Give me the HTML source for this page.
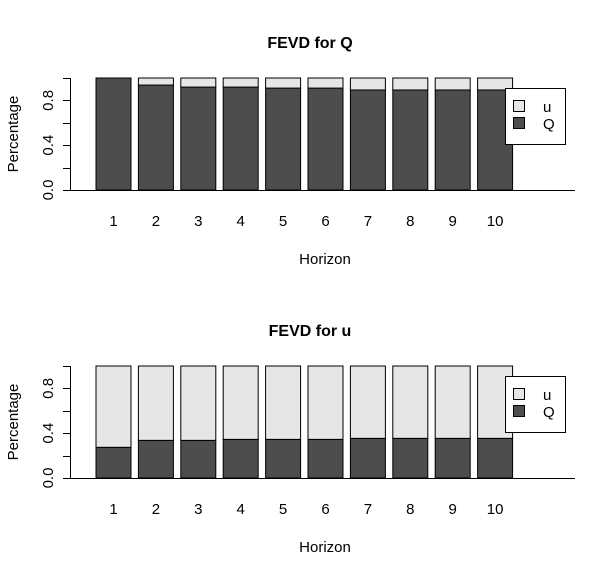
<!DOCTYPE html>
<html><head><meta charset="utf-8"><style>
body{margin:0;background:#fff}
svg{display:block;font-family:"Liberation Sans",Arial,sans-serif}
</style></head><body>
<svg id="chart" width="615" height="576" viewBox="0 0 615 576"></svg>
<script>
const horizons = ["1","2","3","4","5","6","7","8","9","10"];
const qShareQ = [1.0,0.937,0.919,0.919,0.91,0.91,0.893,0.893,0.893,0.893];
const qShareU = [0.274,0.336,0.336,0.345,0.345,0.345,0.354,0.354,0.354,0.354];
const yTicks = [0,0.2,0.4,0.6,0.8,1.0];
const yTickLabels = ["0.0","","0.4","","0.8",""];
const panelTitles = ["FEVD for Q","FEVD for u"];
const legendLabels = ["u","Q"];

const NS="http://www.w3.org/2000/svg";
const svg=document.getElementById('chart');
function mk(tag,attrs,parent,text){const e=document.createElementNS(NS,tag);for(const k in attrs)e.setAttribute(k,attrs[k]);if(text!==undefined)e.textContent=text;(parent||svg).appendChild(e);return e;}

function panel(idx,qVals,y0){
  const g=mk('g',{});
  
  
  const base=y0+190, top=y0+78;
  const yS=v=>base-(base-top)*v;
  const xS=i=>113.5+42.4*i;
  const bw=35;
  const t=mk('text',{x:310,y:y0+48,'text-anchor':'middle','font-size':16,'font-weight':'bold'},g,panelTitles[idx]);
  
  
  horizons.forEach((h,i)=>{
    const x=xS(i)-bw/2, q=qVals[i];
    const rq=mk('rect',{x:x,y:yS(q),width:bw,height:yS(0)-yS(q),fill:'#4d4d4d',stroke:'#000','stroke-width':1},g);
    
    
    const ru=mk('rect',{x:x,y:yS(1),width:bw,height:yS(q)-yS(1),fill:'#e6e6e6',stroke:'#000','stroke-width':1},g);
    
    
    const tl=mk('text',{x:xS(i),y:y0+226,'text-anchor':'middle','font-size':15},g,h);
    
    
  });
  const ax=mk('line',{x1:70,x2:575,y1:base+0.5,y2:base+0.5,stroke:'#000'},g);
  
  
  const ya=mk('line',{x1:70.5,x2:70.5,y1:yS(0),y2:yS(1),stroke:'#000'},g);
  
  
  yTicks.forEach((v,i)=>{
    mk('line',{x1:63,x2:70.5,y1:Math.round(yS(v))+0.5,y2:Math.round(yS(v))+0.5,stroke:'#000'},g);
    if(yTickLabels[i]){
      const l=mk('text',{x:0,y:0,'text-anchor':'middle','font-size':15,transform:`translate(53,${yS(v)}) rotate(-90)`},g,yTickLabels[i]);
      
      
    }
  });
  const yt=mk('text',{x:0,y:0,'text-anchor':'middle','font-size':15,transform:`translate(18,${y0+134}) rotate(-90)`},g,'Percentage');
  
  
  const xt=mk('text',{x:325,y:y0+264,'text-anchor':'middle','font-size':15},g,'Horizon');
  
  
  const lg=mk('g',{},g);
  
  
  mk('rect',{x:505.5,y:y0+88.5,width:60,height:56,fill:'#fff',stroke:'#000'},lg);
  const cols=['#e6e6e6','#4d4d4d'];
  legendLabels.forEach((lab,i)=>{
    const sw=mk('rect',{x:513.5,y:y0+100.5+i*17,width:11,height:11,fill:cols[i],stroke:'#000'},lg);
    
    
    const lt=mk('text',{x:543,y:y0+112+i*17,'font-size':15},lg,lab);
    
    
  });
}
panel(0,qShareQ,0);
panel(1,qShareU,288);
</script>
</body></html>
